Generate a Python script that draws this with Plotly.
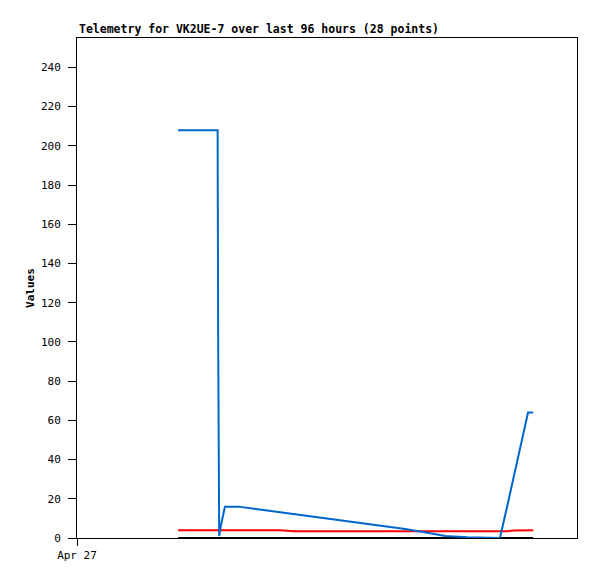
"""Telemetry line chart for VK2UE-7 — last 96 hours."""

from datetime import datetime, timedelta

import plotly.graph_objects as go

FONT = "DejaVu Sans Mono"
BLUE = "#0066cc"
RED = "#ff0000"
BLACK = "#000000"

START = datetime(2024, 4, 27)

# hours after Apr 27 00:00 for each of the 28 telemetry points
hours = [
    19.4, 21.5, 23.5, 25.5, 27.0, 27.1, 27.3, 27.6, 28.0, 28.4,
    31.0, 35.0, 39.0, 41.6, 47.0, 51.0, 55.0, 59.0, 63.0, 67.0,
    70.7, 75.0, 81.2, 82.5, 84.0, 85.5, 86.6, 87.6,
]
ch_blue = [
    208, 208, 208, 208, 208, 104, 1, 6, 11, 16,
    16, 14.6, 13.2, 12.3, 10.4, 9.0, 7.6, 6.2, 4.6, 2.8,
    1.0, 0.4, 0, 15, 33, 51, 64, 64,
]
ch_red = [
    4, 4, 4, 4, 4, 4, 4, 4, 4, 4,
    4, 4, 4, 3.5, 3.5, 3.5, 3.5, 3.5, 3.5, 3.2,
    3.2, 3.2, 3.2, 3.5, 3.8, 4, 4, 4,
]
ch_black = [0] * 28

x = [START + timedelta(hours=h) for h in hours]

fig = go.Figure()
for vals, col in ((ch_black, BLACK), (ch_red, RED), (ch_blue, BLUE)):
    fig.add_trace(
        go.Scatter(
            x=x,
            y=vals,
            mode="lines",
            line=dict(color=col, width=2),
            hoverinfo="skip",
        )
    )

fig.add_annotation(
    text="<b>Telemetry for VK2UE-7 over last 96 hours (28 points)</b>",
    xref="paper",
    yref="paper",
    x=0,
    y=1,
    xanchor="left",
    yanchor="bottom",
    showarrow=False,
    font=dict(family=FONT, size=11.5, color=BLACK),
)

# page body has an 8px margin, so the figure is 8px smaller than the window
fig.update_layout(
    width=589,
    height=571,
    paper_bgcolor="white",
    plot_bgcolor="white",
    showlegend=False,
    font=dict(family=FONT, size=11, color=BLACK),
    margin=dict(l=69, r=20, t=30, b=41, autoexpand=False),
    xaxis=dict(
        range=[START, START + timedelta(hours=96)],
        tickvals=[START],
        ticktext=["Apr 27"],
        ticks="outside",
        ticklen=7,
        tickcolor=BLACK,
        showline=True,
        linecolor=BLACK,
        linewidth=1,
        mirror=True,
        showgrid=False,
        zeroline=False,
        automargin=False,
    ),
    yaxis=dict(
        range=[0, 255],
        tickvals=list(range(0, 241, 20)),
        ticks="outside",
        ticklen=8,
        tickcolor=BLACK,
        ticklabelstandoff=5,
        showline=True,
        linecolor=BLACK,
        linewidth=1,
        mirror=True,
        showgrid=False,
        zeroline=False,
        automargin=False,
        title=dict(text="<b>Values</b>", font=dict(family=FONT, size=11), standoff=4),
    ),
)

fig.write_html("out.html")
